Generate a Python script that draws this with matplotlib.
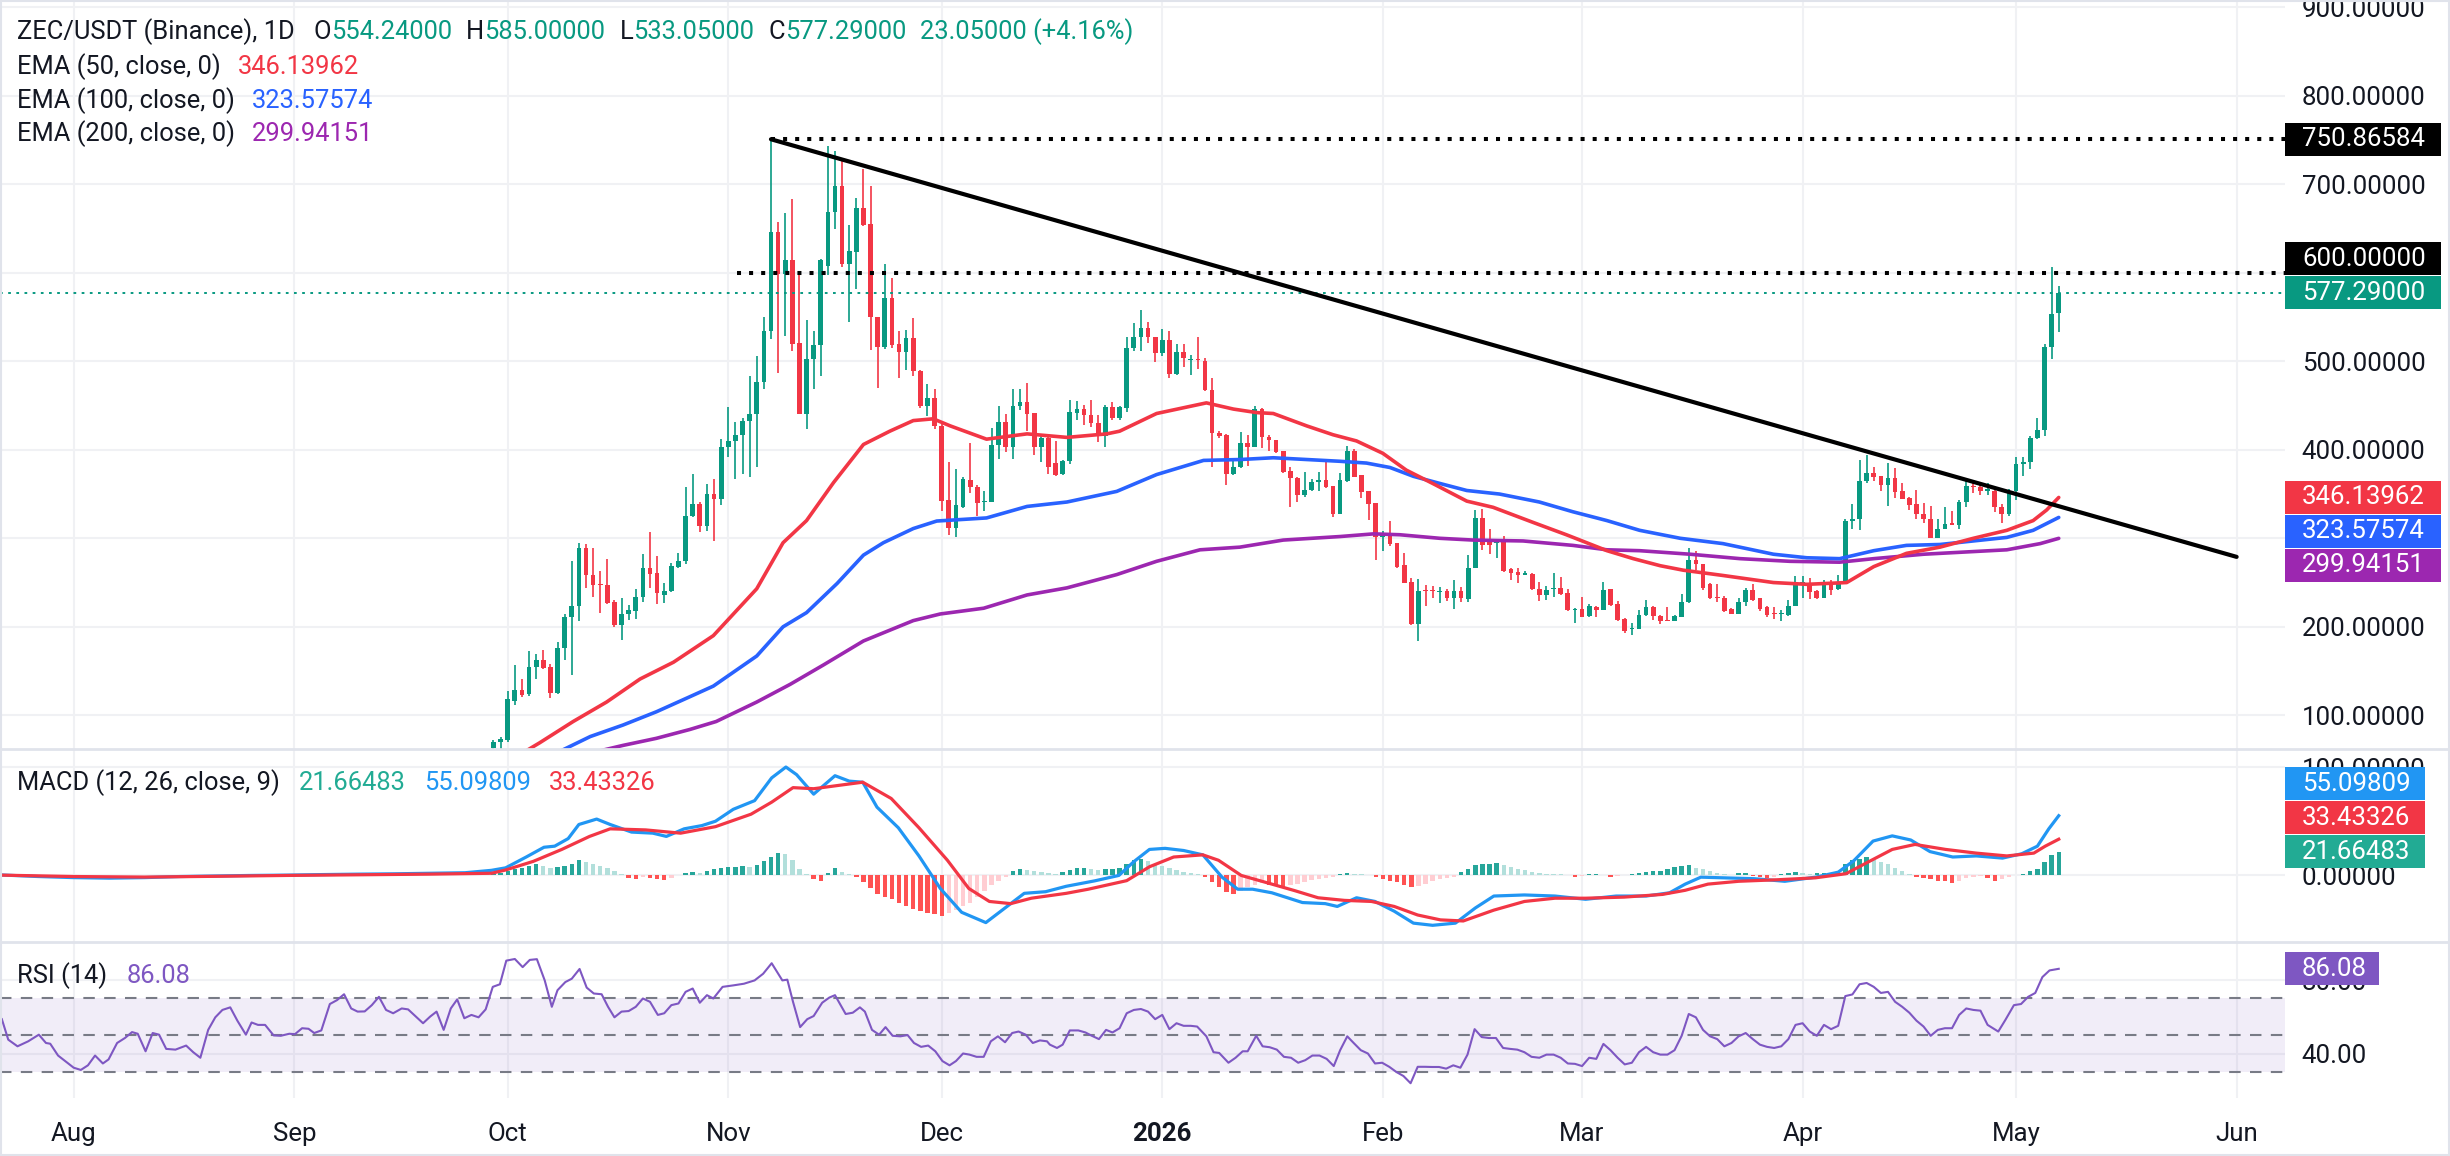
import numpy as np
import matplotlib
matplotlib.use("Agg")
import matplotlib.pyplot as plt
from matplotlib.patches import Rectangle
from matplotlib.lines import Line2D

plt.rcParams['font.family'] = ['Roboto', 'DejaVu Sans']

W, H = 2450, 1156
base = np.datetime64('2025-08-01')   # x axis = days since this date

# ---------------- data ----------------
candle_start = np.datetime64('2025-09-29')
# daily candles (open, high, low, close), 2025-09-29 .. 2026-05-07
ohlc = [
    (63, 72, 60, 70), (70, 76, 62, 73), (72, 128, 70, 118), (116, 157, 112, 129), (129, 141, 121, 123),
    (124, 173, 122, 155), (155, 169, 141, 163), (163, 174, 152, 153), (155, 158, 119, 125), (125, 183, 124, 176),
    (176, 215, 162, 211), (211, 274, 146, 223), (223, 295, 206, 289), (289, 294, 244, 259), (259, 289, 234, 247),
    (248, 263, 216, 247), (247, 277, 226, 227), (228, 230, 200, 202), (202, 232, 185, 215), (214, 225, 208, 219),
    (218, 243, 209, 234), (234, 282, 228, 266), (266, 307, 244, 260), (261, 280, 226, 238), (236, 250, 227, 241),
    (240, 272, 239, 269), (268, 283, 266, 274), (274, 358, 271, 325), (325, 373, 324, 339), (339, 341, 307, 314),
    (314, 361, 308, 350), (350, 367, 297, 344), (344, 412, 338, 403), (403, 448, 392, 410), (410, 431, 367, 417),
    (417, 436, 373, 433), (432, 483, 369, 440), (440, 506, 380, 477), (477, 550, 469, 534), (534, 750.87, 525, 646),
    (646, 657, 487, 599), (599, 668, 529, 614), (614, 683, 512, 520), (521, 598, 440, 441), (441, 547, 423, 503),
    (503, 534, 469, 518), (518, 616, 483, 614), (608, 743, 598, 669), (669, 738, 649, 698), (698, 728, 606, 610),
    (610, 654, 544, 625), (623, 684, 582, 673), (673, 717, 653, 654), (655, 698, 513, 550), (550, 550, 470, 516),
    (516, 610, 514, 571), (571, 594, 515, 518), (519, 534, 481, 510), (510, 535, 490, 526), (526, 549, 483, 489),
    (489, 490, 447, 450), (450, 474, 438, 459), (459, 469, 423, 427), (427, 429, 331, 342), (343, 386, 304, 312),
    (312, 378, 301, 338), (335, 369, 334, 367), (366, 408, 351, 358), (358, 360, 325, 340), (341, 353, 331, 342),
    (341, 425, 341, 405), (405, 449, 390, 431), (431, 440, 398, 403), (403, 469, 390, 449), (449, 469, 445, 454),
    (454, 476, 421, 441), (442, 442, 394, 403), (403, 418, 386, 413), (413, 415, 373, 381), (385, 410, 370, 372),
    (373, 389, 372, 387), (387, 456, 384, 443), (442, 455, 434, 446), (446, 451, 428, 439), (439, 456, 426, 430),
    (430, 439, 409, 419), (416, 451, 403, 448), (448, 454, 434, 436), (436, 449, 434, 448), (447, 527, 443, 515),
    (515, 543, 512, 528), (528, 558, 512, 538), (538, 544, 521, 527), (527, 527, 499, 509), (509, 536, 506, 524),
    (524, 534, 481, 486), (486, 519, 485, 510), (510, 519, 493, 504), (501, 507, 485, 503), (503, 528, 491, 501),
    (500, 504, 466, 467), (468, 481, 380, 419), (419, 421, 413, 416), (417, 418, 360, 373), (373, 390, 372, 381),
    (381, 420, 379, 408), (408, 417, 382, 403), (403, 449, 403, 446), (446, 447, 402, 414), (414, 417, 399, 411),
    (411, 411, 396, 398), (399, 399, 374, 375), (376, 380, 335, 368), (368, 369, 341, 349), (349, 375, 347, 355),
    (355, 367, 353, 364), (364, 375, 354, 366), (366, 386, 357, 358), (359, 359, 324, 328), (328, 374, 328, 366),
    (365, 404, 364, 399), (399, 401, 369, 369), (371, 372, 346, 352), (353, 354, 321, 339), (340, 340, 275, 302),
    (302, 308, 286, 305), (305, 320, 291, 293), (295, 295, 266, 268), (270, 283, 249, 250), (251, 255, 202, 203),
    (203, 254, 184, 241), (242, 247, 224, 240), (241, 246, 232, 240), (239, 245, 227, 241), (240, 243, 229, 233),
    (233, 253, 220, 240), (240, 245, 228, 232), (231, 281, 228, 266), (266, 332, 266, 323), (323, 333, 287, 292),
    (296, 310, 282, 292), (295, 297, 278, 297), (296, 303, 262, 263), (265, 267, 253, 261), (262, 266, 250, 259),
    (259, 263, 258, 261), (260, 261, 242, 243), (243, 251, 229, 236), (236, 246, 230, 242), (243, 261, 234, 244),
    (244, 256, 236, 237), (238, 243, 218, 219), (219, 221, 204, 220), (220, 234, 211, 211), (212, 226, 211, 224),
    (222, 223, 211, 219), (219, 251, 219, 242), (243, 243, 224, 225), (226, 229, 207, 208), (209, 210, 193, 195),
    (198, 204, 191, 198), (198, 219, 197, 213), (213, 230, 212, 222), (222, 223, 208, 212), (212, 213, 203, 207),
    (208, 222, 206, 207), (207, 213, 206, 212), (211, 237, 211, 228), (228, 289, 227, 276), (276, 286, 264, 271),
    (271, 271, 242, 244), (248, 249, 231, 232), (233, 248, 228, 232), (233, 235, 217, 218), (220, 221, 214, 215),
    (215, 233, 214, 228), (228, 244, 223, 242), (242, 248, 229, 230), (232, 232, 218, 220), (222, 223, 211, 213),
    (215, 222, 209, 214), (214, 219, 207, 215), (213, 230, 212, 224), (224, 257, 223, 249), (249, 257, 233, 250),
    (250, 255, 231, 239), (240, 242, 231, 232), (232, 253, 232, 250), (250, 253, 236, 242), (243, 259, 242, 249),
    (249, 322, 249, 320), (320, 339, 310, 322), (322, 388, 309, 365), (365, 394, 363, 374), (374, 381, 365, 369),
    (370, 370, 354, 360), (360, 385, 336, 368), (368, 379, 345, 352), (353, 362, 344, 344), (345, 347, 332, 338),
    (339, 355, 322, 328), (328, 340, 317, 322), (322, 337, 300, 300), (300, 322, 300, 311), (311, 335, 311, 316),
    (317, 331, 315, 315), (315, 343, 311, 341), (341, 366, 335, 359), (359, 362, 351, 358), (358, 362, 349, 354),
    (354, 363, 349, 355), (354, 355, 330, 335), (335, 339, 317, 327), (327, 356, 325, 354), (354, 392, 343, 384),
    (384, 392, 370, 386), (386, 416, 378, 413), (413, 436, 412, 422), (422, 519, 416, 516), (516, 607, 503, 553),
    (554.24, 585, 533.05, 577.29),
]

# EMA lines, read as (day since 2025-08-01, value)
ema50_day = [63, 65.5, 70.2, 74.9, 79.6, 84.3, 89.9, 96, 99.7, 103, 106.8, 111, 114.7, 118, 120.8, 123.2, 128.3,
             134, 139.6, 145.2, 147, 152.2, 159.2, 163, 166.3, 168.6, 173.3, 177, 180.3, 184, 187.3, 191, 195.8,
             199.5, 205.1, 209.8, 215.5, 219.2, 223, 226.2, 231.8, 238.9, 243.6, 249.2, 253, 257.6, 262.3, 267,
             271.7, 275.4, 277.3, 279]
ema50_val = [57, 69, 93, 115, 141, 160, 190, 243, 295, 320, 363, 406, 421, 433, 435, 427, 412,
             418, 414, 418, 421, 441, 453, 446, 442, 441, 427, 417, 410, 396, 377, 362, 342,
             335, 318, 304, 286, 277, 269, 264, 258, 250, 248, 250, 268, 283, 290, 300,
             309, 320, 332, 346.14]
ema100_day = [68, 72.6, 77.2, 81.9, 86.6, 89.9, 96, 99.7, 103, 107.3, 111, 113.8, 118, 121.3, 128.3, 134, 139.6,
              146.6, 152.2, 158.8, 163.9, 168.6, 173.3, 178, 181.7, 185, 188.3, 192, 195.8, 200.4, 206, 210.7,
              215.5, 220.1, 225.8, 231.8, 238.9, 243.6, 248.2, 253, 257.6, 262.3, 267, 271.7, 275.4, 279]
ema100_val = [58, 76, 89, 104, 121, 133, 167, 200, 216, 249, 281, 295, 311, 319.5, 323, 336, 341,
              353, 372, 388, 389, 391, 389, 387, 385, 380, 370, 362, 354, 350, 341, 330,
              320, 309, 300, 294, 282, 278, 277, 286, 292, 293, 297, 301, 309, 323.58]
ema200_day = [73, 77.2, 81.9, 86.6, 90.3, 96, 100.7, 105.4, 111, 118, 121.8, 127.9, 134, 139.6, 146.6, 152.2,
              158.3, 163.9, 170, 178, 182.7, 186.4, 192, 196.7, 203.7, 210.7, 215.5, 220.1, 227.2, 234.2, 241.2,
              248.2, 253, 260, 267, 271.7, 276.4, 279]
ema200_val = [58, 66, 74, 84, 93, 115, 135, 157, 184, 207, 214.5, 221, 236, 244, 259, 274,
              287, 290, 298, 302, 305, 304, 300, 298, 297, 292, 287, 286, 282, 277, 274,
              273, 277, 282, 285, 287, 294, 299.94]

# trend line (day, price) and horizontal levels
trend_day = [98, 304]
trend_val = [750.87, 279]
level_hi, level_hi_from = 750.86584, 98
level_600, level_600_from = 600.0, 93.2
last_close = 577.29

# MACD (12, 26, 9) lines, read as (day, value)
macd_day = [-10.4, -5, 0, 5, 10, 15, 20, 25, 30, 35, 40, 45, 50, 55, 58.7, 60.7, 63.6, 66.1, 67.6, 69.5, 71,
            73.5, 75.4, 78.4, 81.4, 83.3, 85.8, 88.3, 90.2, 92.7, 95.7, 98.1, 100.1, 101.6, 104, 107, 109,
            110.9, 112.9, 115.9, 118.8, 121.8, 124.8, 128.2, 130.7, 133.6, 136.6, 139.5, 143.5, 146.9, 149,
            151.2, 153.4, 156, 158.7, 161.4, 163.6, 165.7, 168.4, 170.6, 172.7, 175.9, 177.6, 180.3, 182.9,
            185.6, 188.3, 191, 194.2, 197, 199.6, 203.9, 208.2, 212.5, 216.8, 221, 224.3, 226.5, 228.7, 231.9,
            236.2, 240.5, 244.8, 248, 250.2, 252.9, 255.6, 258.2, 260.9, 264.1, 267.4, 271.1, 273.8, 276,
            277.6, 279]
macd_val = [0.5, -1, -2, -2.5, -2, -1, -0.5, 0, 0.3, 0.8, 1.2, 1.5, 2, 2.5, 4.7, 7, 17, 26, 27, 34, 47,
            52, 47, 40, 39, 36, 43, 46, 50, 61, 69, 90, 100, 93, 75, 92, 87,
            86, 63, 44, 18, -12, -34, -43.5, -31, -16.5, -15, -10, -5, 0, 12.7,
            24, 25, 23, 19, -1.6, -12.7, -12.7, -16, -20.6, -25, -26, -28.6, -20.6, -24,
            -33, -44, -46, -44, -30, -19, -18, -19, -22, -19, -19, -16, -8, -1.6, -2.2,
            -3, -5.4, -1.6, 3, 13.6, 31.7, 36.5, 32.7, 22, 17, 18, 16, 20, 27,
            43, 55.1]
signal_day = [-10.4, 0, 10, 20, 30, 40, 50, 58.7, 60.7, 64.6, 68.6, 72.5, 75.4, 80.4, 85.3, 90.2, 95.2, 98.1,
              101.1, 104, 108, 110.9, 114.9, 118.8, 122.8, 125.8, 128.7, 131.7, 134.6, 139.5, 142.6, 148,
              151.2, 154.6, 158.7, 160.9, 164.1, 168.4, 171.6, 174.9, 178.6, 182.4, 185.6, 188.9, 192.1, 195.3,
              199.6, 203.9, 208.2, 212.5, 217.9, 223.3, 226.5, 229.7, 234, 239.4, 244.8, 249.1, 252.3, 255.6,
              258.8, 263.1, 267.4, 271.7, 275.5, 277.1, 279]
signal_val = [0.3, -1, -1.5, -0.8, 0, 0.6, 1.2, 2, 5, 13, 24, 36, 43, 42, 39, 45, 56.5, 67.6,
              81, 80, 83.5, 86, 71, 44, 14, -12, -24, -26, -21, -16.5, -12.7, -4.8,
              8, 17, 19, 14, 0, -8, -14, -20.6, -23, -24, -28.6, -36.5, -41, -42,
              -32, -24, -21, -21, -20, -17.5, -13.7, -8, -5.4, -4, -2.2, 1.6, 12.7, 24,
              28.6, 24, 20.6, 18, 20.6, 27, 33.43]
# histogram, one bar per day from 2025-09-13 to 2026-05-07
hist_start = np.datetime64('2025-09-13')
macd_hist = [
    0.8, 1.0, 0.7, 0.5, 0.9, 1.2, 1.0, 0.8, 1.1, 1.3, 1.0, 0.9, 1.2, 1.4, 1.2, 1.0,
    1.5, 2.5, 4, 5.5, 7, 9, 10.5, 9, 7, 8, 9, 11, 14, 12, 11, 9, 7, 4, 1.5,
    -2, -3, -1, -2, -3, -4, -2, 0.5,
    2, 3, 2, 4, 6, 7, 8, 8, 9, 8, 10, 13, 17, 21, 20, 14, 6, 1, -3, -5, 2, 7, 3, 1, -1,
    -6, -12, -17, -20, -22, -25, -28, -31, -33, -35, -36, -37,
    -35, -32, -28, -25, -20, -14, -9, -5, -1,
    4, 6, 5, 4, 3, 2, 1.5, 3, 5, 7, 7, 6,
    5, 6, 6, 7, 10.5, 14, 15, 13, 11, 9, 7, 5, 3.5, 2.5, 1,
    -1.5, -6, -11, -15, -17, -14, -11, -8.5, -7.3, -8.5, -9.5, -10.5, -9, -7.5, -6, -4.5, -3.2, -2, -1,
    1, 2, 1.5, 1, 0.5,
    -1.6, -3.2, -5, -6.5, -8.6, -11, -9.5, -7.5, -5.5, -3.5, -2, -1,
    3, 6, 9.5, 10.5, 11, 11.7, 9.5, 8, 6.3, 4.8, 3.5, 2.5, 1.6, 1.2, 1, 0.6,
    -1, -0.6, 1.2, 1.5, 0.8, -1, -0.8, 0.8, 1.5, 2.5,
    3.5, 4, 4.5, 6, 7.5, 8.5, 9.5, 7, 5.5, 4, 2.5, 1.2, 0.5,
    2, 2.2, -0.8, -1.5, -2, -1, 1.5, 2.2, 2.8, 1.8, 1.5, 2, 2.2, 2.5, 3,
    11, 14, 15.5, 17, 14, 12.7, 10.5, 7.3, 4, 1.6,
    -1, -2, -3.2, -4.8, -5.4, -7.3, -4.8, -2.2, -1, -0.5, -2, -5, -3, -1,
    0.8, 1.5, 3.8, 6.3, 12.7, 19, 21.66,
]

# RSI (14), read as (day, value)
rsi_pts = [
    (-10.1, 58.8), (-9.2, 47.7), (-7.9, 44.1), (-6.4, 46.8), (-4.9, 50.4), (-3.9, 45.9), (-3.3, 45.5),
    (-2.2, 39.1), (-1, 35.5), (0, 32.5), (1, 31.3), (2, 33.8), (3, 39.1), (4.1, 34.8), (4.9, 37), (6.1, 45.9),
    (7.2, 48.6), (8.2, 51.8), (9, 50.9), (10.1, 41.4), (11.1, 51.3), (12, 50.4), (13, 42.7), (14.3, 42.3),
    (15.8, 44.5), (16.8, 40.9), (17.8, 37.9), (18.9, 53), (19.9, 59.8), (20.9, 63.8), (22, 65.2), (23, 58),
    (24.2, 50.4), (25, 57), (25.9, 55.7), (26.9, 55.7), (28.1, 50), (29.1, 49.8), (30.3, 50.9), (31.1, 50.7),
    (32.1, 53.9), (33, 53.6), (33.8, 51.3), (34.8, 52.7), (36, 67), (37, 69.1), (38, 72.3), (39, 64.6),
    (39.9, 62.9), (40.9, 63), (41.9, 66.4), (42.9, 70.9), (43.9, 63.8), (44.9, 62), (46.1, 64.6), (47, 64.1),
    (48, 60.5), (49.1, 56.6), (50.1, 60.2), (51, 62.9), (52, 53), (53, 64.6), (53.9, 69.5), (54.9, 59.3),
    (55.9, 61.1), (56.9, 59.8), (57.9, 64.1), (58.9, 76.3), (59.9, 77.7), (60.8, 90.5), (62, 91.4), (63.1, 87),
    (64.1, 90.9), (65.1, 91.3), (66.2, 79.8), (67.2, 65.5), (68, 74.5), (69.1, 78.9), (70, 80.7), (71.1, 86),
    (72.1, 75.9), (73.1, 72.7), (74.2, 72.3), (75.1, 65.5), (76, 59.8), (77, 62.9), (78, 63.2), (79, 65.5),
    (80, 70), (81, 68.2), (82.1, 61.1), (83, 62), (84, 66.4), (85, 67.3), (86, 73.6), (87, 75.4), (88, 67.7),
    (89, 71.8), (89.9, 70), (91.2, 76.3), (92.7, 77.1), (94.2, 78), (95.7, 79.8), (96.9, 83.4), (98.1, 89.1),
    (99.6, 79.8), (100.3, 80.2), (101.1, 68.2), (102.1, 54.5), (103.1, 58.8), (104, 60.5), (105.2, 67.7),
    (106.2, 70.5), (107, 71.8), (108.5, 61.6), (109.5, 62.3), (110.5, 65.2), (111.2, 62.9), (112.2, 53),
    (113.2, 50.4), (114.1, 54.5), (115.1, 49.8), (116.2, 49.5), (117.2, 50.2), (118.1, 45.9), (119.1, 43.8),
    (120.1, 44.5), (121.1, 41.4), (122.1, 36.1), (123.1, 33.8), (124, 36.1), (125, 40.2), (125.9, 39.6),
    (126.9, 38.4), (127.9, 38.4), (128.9, 46.8), (129.9, 49.5), (130.9, 46.3), (131.9, 51.3), (132.8, 52.1),
    (133.8, 50.4), (134.8, 45.9), (135.8, 47.3), (136.8, 46.8), (137.2, 45), (138.2, 43.2), (139, 45),
    (140, 52.7), (141.2, 52.7), (142.2, 51.6), (143.1, 49.8), (144.1, 48), (145.1, 53), (146, 51.6), (147, 53.9),
    (148, 62), (149, 63.8), (150, 64.3), (151, 62.9), (152, 58.8), (153, 61.1), (154, 53.4), (155, 56.6),
    (156, 55.2), (157, 55.2), (157.9, 54.8), (159.2, 49.5), (160.2, 40.9), (161, 40.5), (162.3, 35.2),
    (163.3, 37.9), (164.3, 41.4), (165, 41.4), (166.2, 49.8), (167.1, 44.1), (168.1, 43.6), (169.1, 42.3),
    (170.1, 38.4), (171.1, 37.9), (172.1, 35.2), (173.1, 36.6), (174.1, 39.1), (175.1, 39.1), (176.1, 37.3),
    (177.1, 33.4), (178, 42), (179, 49.5), (179.9, 45.9), (180.9, 42), (181.9, 40.2), (182.9, 34.8),
    (183.9, 35.2), (184.9, 33), (185.9, 30.2), (186.9, 28), (187.9, 24.1), (188.9, 33), (189.9, 33),
    (190.9, 32.9), (191.9, 32.9), (192.9, 32), (193.9, 33.8), (194.9, 32.5), (195.9, 39.6), (196.9, 53.4),
    (197.9, 49.1), (198.9, 48.6), (199.9, 48.6), (200.9, 43.2), (201.9, 42.7), (202.9, 42.3), (203.9, 40.9),
    (204.9, 38.4), (206, 37.9), (207, 39.6), (208, 39.6), (209, 37.9), (210, 34.8), (211, 34.6), (212, 33.4),
    (213, 37.9), (214, 37.3), (215, 45.4), (216, 42), (217, 37.9), (218, 34.3), (219, 35.2), (220, 40.9),
    (221, 43.8), (222, 40.9), (223, 39.6), (224, 39.6), (225, 42), (226, 49.8), (227, 61.6), (228, 59.8),
    (229, 53), (230, 49.5), (231, 48), (232, 44.1), (233, 45.9), (234, 49.5), (235, 51.3), (236, 48), (237, 45),
    (238, 43.8), (239, 43.2), (240, 44.1), (241, 48), (242, 55.7), (243, 56.6), (244, 52.1), (245, 49.8),
    (246, 55.7), (247, 53.4), (248, 55.2), (249, 71.3), (250, 72.2), (251, 77.7), (252, 78.4), (253, 76.3),
    (254, 73), (255, 73.6), (256, 68.2), (257, 65.5), (258, 62.3), (259, 58), (260, 54.8), (261, 49.8),
    (262, 53), (263, 53.9), (264, 53.9), (265, 61.1), (266, 64.6), (267, 63.8), (268, 63.4), (269, 55.7),
    (270.5, 52.1), (271.5, 58.4), (272.7, 66.4), (273.7, 67), (274.7, 70.9), (275.7, 73), (276.7, 81.6),
    (277.7, 85.2), (279, 86.08),
]

months = ['2025-08-01', '2025-09-01', '2025-10-01', '2025-11-01', '2025-12-01', '2026-01-01',
          '2026-02-01', '2026-03-01', '2026-04-01', '2026-05-01', '2026-06-01']
month_labels = ['Aug', 'Sep', 'Oct', 'Nov', 'Dec', '2026', 'Feb', 'Mar', 'Apr', 'May', 'Jun']

price_grid = [100, 200, 300, 400, 500, 600, 700, 800, 900]
price_ticks = [100, 200, 400, 500, 700, 800, 900]   # 300 and 600 sit under the value tags

# ---------------- styling ----------------
UP, DN = '#089981', '#F23645'
TXT = '#131722'
GRID = '#F0F1F4'
SEP = '#E0E3EB'
FS = 18.6    # axis text
LFS = 18.4   # legend text

fig = plt.figure(figsize=(W / 100, H / 100), dpi=100)
fig.patch.set_facecolor('white')

def px_axes(top, bottom):
    return fig.add_axes([0, 1 - bottom / H, 2285 / W, (bottom - top) / H])

ax = px_axes(0, 748.5)
axm = px_axes(748.5, 942)
axr = px_axes(942, 1098)

xmin, xmax = -10.36, 310.8
mdays = [(np.datetime64(m) - base).astype(int) for m in months]

for a in (ax, axm, axr):
    a.set_xlim(xmin, xmax)
    for s in a.spines.values():
        s.set_visible(False)
    a.yaxis.tick_right()
    a.tick_params(axis='y', length=0, pad=12, labelsize=FS, labelcolor=TXT)
    a.tick_params(axis='x', length=0)
    for d in mdays:
        a.axvline(d, color=GRID, lw=1.5, zorder=0)

# ---- main price panel ----
ax.set_ylim(62.5, 908.2)
ax.set_yticks(price_ticks)
ax.set_yticklabels(['%.5f' % t for t in price_ticks])
for t in price_grid:
    ax.axhline(t, color=GRID, lw=1.5, zorder=0)

o, h, l, c = np.array(ohlc, dtype=float).T
cx = (candle_start - base).astype(int) + np.arange(len(o))
ccol = np.where(c >= o, UP, DN)
ax.vlines(cx, l, h, colors=ccol, lw=1.2, zorder=2)
ax.bar(cx, np.maximum(np.abs(c - o), 1.2), bottom=np.minimum(o, c), width=0.66,
       color=ccol, lw=0, zorder=2)

ax.plot(ema200_day, ema200_val, color='#9C27B0', lw=2.6, zorder=3, solid_capstyle='round')
ax.plot(ema100_day, ema100_val, color='#2962FF', lw=2.6, zorder=3, solid_capstyle='round')
ax.plot(ema50_day, ema50_val, color='#F23645', lw=2.6, zorder=3, solid_capstyle='round')

ax.plot([xmin, xmax], [last_close, last_close], color=UP, lw=1.4, ls=(0, (1.4, 2.8)), zorder=4)
ax.plot([level_hi_from, xmax], [level_hi, level_hi], color='black', lw=2.9, ls=(0, (1, 2)),
        dash_capstyle='butt', zorder=4)
ax.plot([level_600_from, xmax], [level_600, level_600], color='black', lw=2.9, ls=(0, (1, 2)),
        dash_capstyle='butt', zorder=4)
ax.plot(trend_day, trend_val, color='black', lw=3.0, solid_capstyle='round', zorder=5)
ax.set_xticks([])

# ---- MACD panel ----
axm.set_ylim(-61.4, 117.1)
axm.set_yticks([0, 100])
axm.set_yticklabels(['0.00000', '100.00000'])
for t in (0, 100):
    axm.axhline(t, color=GRID, lw=1.5, zorder=0)
hv = np.array(macd_hist, dtype=float)
hx = (hist_start - base).astype(int) + np.arange(len(hv))
prev = np.r_[hv[0], hv[:-1]]
hcol = np.where(hv >= 0, np.where(hv >= prev, '#26A69A', '#B2DFDB'),
                np.where(hv <= prev, '#FF5252', '#FFCDD2'))
axm.bar(hx, hv, width=0.62, color=hcol, lw=0, zorder=2)
axm.plot(macd_day, macd_val, color='#2196F3', lw=2.3, zorder=3)
axm.plot(signal_day, signal_val, color='#F23645', lw=2.3, zorder=3)
axm.set_xticks([])

# ---- RSI panel ----
axr.set_ylim(16.1, 100.6)
axr.set_yticks([40, 80])
axr.set_yticklabels(['40.00', '80.00'])
for t in (40, 80):
    axr.axhline(t, color=GRID, lw=1.5, zorder=0)
axr.axhspan(30, 70, color='#7E57C2', alpha=0.1, lw=0, zorder=1)
for t in (30, 50, 70):
    axr.axhline(t, color='#787B86', lw=1.5, ls=(0, (5.5, 4.5)), zorder=2)
rd, rv = zip(*rsi_pts)
axr.plot(rd, rv, color='#7E57C2', lw=1.5, zorder=3)
axr.set_xticks(mdays)
axr.set_xticklabels(month_labels, fontsize=FS, color=TXT)
axr.tick_params(axis='x', pad=17)
for lab in axr.get_xticklabels():
    if lab.get_text() == '2026':
        lab.set_fontweight('bold')

# ---- panel separators and border ----
for yy in (748.5, 942):
    fig.add_artist(Line2D([0, 1], [1 - yy / H, 1 - yy / H], transform=fig.transFigure,
                          color=SEP, lw=2))
fig.add_artist(Rectangle((0.0004, 0.001), 0.9992, 0.998, transform=fig.transFigure,
                         fill=False, ec=SEP, lw=1.5))

# ---- value tags on the price scale ----
def stack(ys, anchor, gap=34):
    out = list(ys)
    for i in range(anchor + 1, len(out)):
        out[i] = max(out[i], out[i - 1] + gap)
    for i in range(anchor - 1, -1, -1):
        out[i] = min(out[i], out[i + 1] - gap)
    return out

def tags(axis, items, anchor, width):
    ys = [H - axis.transData.transform((0, v))[1] for v, _, _ in items]
    ys = stack(ys, anchor)
    for (v, txt, colr), yc in zip(items, ys):
        fig.add_artist(Rectangle((2285 / W, 1 - (yc + 16.5) / H), width / W, 33 / H,
                                 transform=fig.transFigure, color=colr, lw=0, zorder=10))
        fig.text(2302 / W, 1 - yc / H, txt, color='white', fontsize=FS, va='center',
                 ha='left', zorder=11)

tags(ax, [(750.86584, '750.86584', 'black'), (600.0, '600.00000', 'black'),
          (577.29, '577.29000', UP), (346.13962, '346.13962', '#F23645'),
          (323.57574, '323.57574', '#2962FF'), (299.94151, '299.94151', '#9C27B0')], 2, 156)
tags(axm, [(55.09809, '55.09809', '#2196F3'), (33.43326, '33.43326', '#F23645'),
           (21.66483, '21.66483', '#22AB94')], 2, 140)
tags(axr, [(86.08, '86.08', '#7E57C2')], 0, 94)

# ---- legends ----
renderer = fig.canvas.get_renderer()

def rich(x, y, parts):
    for s, colr, gap in parts:
        t = fig.text(x / W, 1 - y / H, s, color=colr, fontsize=LFS, va='center', ha='left', zorder=12)
        x = t.get_window_extent(renderer).x1 + gap

rich(17, 31.7, [('ZEC/USDT (Binance), 1D', TXT, 19), ('O', TXT, 0), ('554.24000', UP, 14),
                ('H', TXT, 0), ('585.00000', UP, 14), ('L', TXT, 0), ('533.05000', UP, 14),
                ('C', TXT, 0), ('577.29000', UP, 14), ('23.05000 (+4.16%)', UP, 0)])
rich(17, 67, [('EMA (50, close, 0)', TXT, 17), ('346.13962', '#F23645', 0)])
rich(17, 101, [('EMA (100, close, 0)', TXT, 17), ('323.57574', '#2962FF', 0)])
rich(17, 134, [('EMA (200, close, 0)', TXT, 17), ('299.94151', '#9C27B0', 0)])
rich(17, 783, [('MACD (12, 26, close, 9)', TXT, 19), ('21.66483', '#22AB94', 18),
               ('55.09809', '#2196F3', 18), ('33.43326', '#F23645', 0)])
rich(17, 976, [('RSI (14)', TXT, 19), ('86.08', '#7E57C2', 0)])

fig.savefig('out.png', dpi=100, facecolor='white')
